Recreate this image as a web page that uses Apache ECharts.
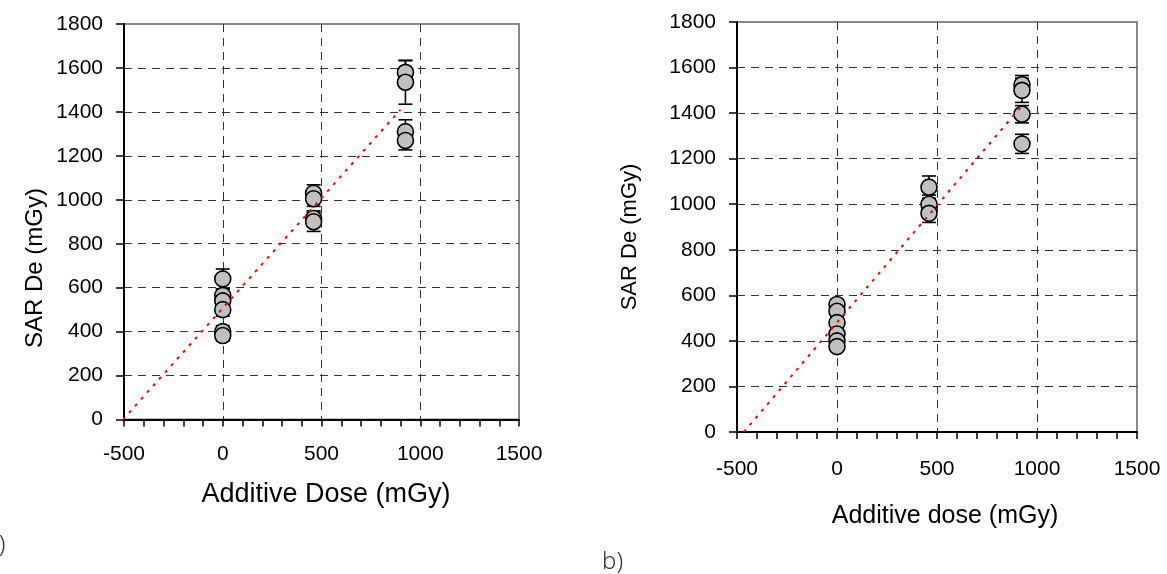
<!DOCTYPE html>
<html><head><meta charset="utf-8">
<script src="https://cdn.jsdelivr.net/npm/echarts@6/dist/echarts.min.js"></script>
<style>html,body{margin:0;padding:0;background:#fff}#c{width:1167px;height:574px}</style>
</head><body><div id="c"></div>
<script>
// ---- data: chart a ----
var aDose = [0, 0, 0, 0, 0, 0, 460, 460, 460, 460, 925, 925, 925, 925];
var aDe   = [640, 565, 540, 500, 400, 382, 1030, 1005, 915, 900, 1580, 1535, 1310, 1270];
var aErr  = [45, 30, 30, 30, 27, 25, 38, 35, 35, 44, 53, 100, 54, 43];
var aFitX = [-505, 900];
var aFitY = [0, 1410];
// ---- data: chart b ----
var bDose = [0, 0, 0, 0, 0, 0, 460, 460, 460, 925, 925, 925, 925];
var bDe   = [560, 530, 480, 430, 400, 375, 1075, 1000, 960, 1525, 1500, 1395, 1265];
var bErr  = [20, 20, 20, 20, 20, 20, 49, 40, 40, 40, 53, 38, 42];
var bFitX = [-466, 926];
var bFitY = [0, 1434];
// ---- axis ----
var xMin = -500, xMax = 1500, xStep = 500;
var yMin = 0, yMax = 1800, yStep = 200;
var xTitleA = 'Additive Dose (mGy)', xTitleB = 'Additive dose (mGy)';
var yTitle = 'SAR De (mGy)';

function zip3(a, b, c) { return a.map(function (v, i) { return [v, b[i], c[i]]; }); }
function zip2(a, b) { return a.map(function (v, i) { return [v, b[i]]; }); }

var FONT = 'Liberation Sans';

function renderErr(params, api) {
  var x = api.value(0), y = api.value(1), e = api.value(2);
  var t = api.coord([x, y + e]), b = api.coord([x, y - e]);
  var hw = 7;
  var st = { stroke: '#000', lineWidth: 1.6 };
  return { type: 'group', children: [
    { type: 'line', shape: { x1: t[0], y1: t[1], x2: b[0], y2: b[1] }, style: st },
    { type: 'line', shape: { x1: t[0] - hw, y1: t[1], x2: t[0] + hw, y2: t[1] }, style: st },
    { type: 'line', shape: { x1: b[0] - hw, y1: b[1], x2: b[0] + hw, y2: b[1] }, style: st }
  ]};
}

function plain(v) { return String(v); }

function xAx(i, margin) {
  return {
    gridIndex: i, type: 'value', min: xMin, max: xMax, interval: xStep,
    axisLine: { onZero: false, lineStyle: { color: '#000', width: 2 } },
    axisTick: { show: true, length: 7, lineStyle: { color: '#000', width: 1.5 } },
    minorTick: { show: true, splitNumber: 5, length: 7, lineStyle: { color: '#000', width: 1.5 } },
    axisLabel: { color: '#000', fontSize: 21, fontFamily: FONT, margin: margin, formatter: plain },
    splitLine: { show: true, showMinLine: false, showMaxLine: false, lineStyle: { color: '#333', width: 1, type: [8, 6] } }
  };
}
function yAx(i) {
  return {
    gridIndex: i, type: 'value', min: yMin, max: yMax, interval: yStep,
    axisLine: { show: true, onZero: false, lineStyle: { color: '#000', width: 2 } },
    axisTick: { show: true, length: 8, lineStyle: { color: '#000', width: 1.5 } },
    axisLabel: { color: '#000', fontSize: 21, fontFamily: FONT, margin: 21, formatter: plain },
    splitLine: { show: true, showMinLine: false, showMaxLine: false, lineStyle: { color: '#333', width: 1, type: [8, 6] } }
  };
}

function seriesFor(i, dose, de, err, fx, fy) {
  return [
    { type: 'custom', xAxisIndex: i, yAxisIndex: i, renderItem: renderErr,
      encode: { x: 0, y: 1 }, data: zip3(dose, de, err), z: 2, silent: true },
    { type: 'scatter', xAxisIndex: i, yAxisIndex: i, data: zip2(dose, de),
      symbol: 'circle', symbolSize: 16, z: 3,
      itemStyle: { color: '#c0c0c0', borderColor: '#000', borderWidth: 1.6, opacity: 1 } },
    { type: 'line', xAxisIndex: i, yAxisIndex: i, data: zip2(fx, fy), symbol: 'none', z: 4,
      lineStyle: { color: '#ff0000', width: 2, type: [3, 6] } }
  ];
}

var chart = echarts.init(document.getElementById('c'), null, { renderer: 'canvas' });
chart.setOption({
  animation: false,
  backgroundColor: '#fff',
  grid: [
    { left: 124, top: 24, width: 395, height: 395.5, show: true, borderColor: '#888', borderWidth: 2, backgroundColor: '#fff' },
    { left: 737, top: 22, width: 400, height: 410, show: true, borderColor: '#888', borderWidth: 2, backgroundColor: '#fff' }
  ],
  xAxis: [xAx(0, 24), xAx(1, 27)],
  yAxis: [yAx(0), yAx(1)],
  series: seriesFor(0, aDose, aDe, aErr, aFitX, aFitY).concat(seriesFor(1, bDose, bDe, bErr, bFitX, bFitY)),
  graphic: [
    { type: 'text', x: 326, y: 495, style: { text: xTitleA, fill: '#000', font: '27px "Liberation Sans"', textAlign: 'center', textVerticalAlign: 'middle' } },
    { type: 'text', x: 35, y: 268, rotation: Math.PI / 2, style: { text: yTitle, fill: '#000', font: '24px "Liberation Sans"', textAlign: 'center', textVerticalAlign: 'middle' } },
    { type: 'text', x: 945, y: 516, style: { text: xTitleB, fill: '#000', font: '25px "Liberation Sans"', textAlign: 'center', textVerticalAlign: 'middle' } },
    { type: 'text', x: 630, y: 237, rotation: Math.PI / 2, style: { text: yTitle, fill: '#000', font: '22px "Liberation Sans"', textAlign: 'center', textVerticalAlign: 'middle' } },
    { type: 'text', x: -14, y: 545, style: { text: 'a)', fill: '#333', font: '300 24px "Noto Sans"', textAlign: 'left', textVerticalAlign: 'middle' } },
    { type: 'text', x: 602, y: 562, style: { text: 'b)', fill: '#333', font: '300 24px "Noto Sans"', textAlign: 'left', textVerticalAlign: 'middle' } }
  ]
});
</script></body></html>
